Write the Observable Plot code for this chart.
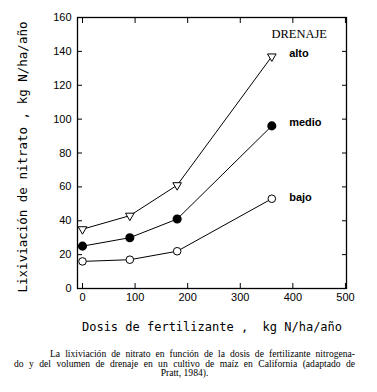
<!DOCTYPE html>
<html>
<head>
<meta charset="utf-8">
<script src="https://cdn.jsdelivr.net/npm/d3@7"></script>
<script src="https://cdn.jsdelivr.net/npm/@observablehq/plot@0.6"></script>
<style>
  body { margin: 0; background: white; }
  #chart svg { display: block; }
  .cap { margin-left: 14px; width: 341px; font-family: "Liberation Serif", "Times New Roman", serif; font-size: 9.6px; line-height: 9.6px; color: #000; margin-top: 9px; }
  .cap div { text-align: justify; text-align-last: justify; white-space: nowrap; }
  .cap .l1 { padding-left: 36px; }
  .cap .l3 { text-align-last: center; text-align: center; }
</style>
</head>
<body>
<div id="chart"></div>
<script>
const dosis = [0, 90, 180, 360];
const alto = [35, 43, 61, 137];
const medio = [25, 30, 41, 96];
const bajo = [16, 17, 22, 53];
const seriesNames = ["alto", "medio", "bajo"];
const labelDosis = [393, 393, 393];
const labelValue = [139, 98, 54];
const xTicks = [0, 100, 200, 300, 400, 500];
const yTicks = [0, 20, 40, 60, 80, 100, 120, 140, 160];
const legendTitle = "DRENAJE";
const legendPos = [412, 150];
const xTitle = "Dosis de fertilizante ,  kg N/ha/año";
const yTitle = "Lixiviación de nitrato , kg N/ha/año";
const captionLines = [
  "La lixiviación de nitrato en función de la dosis de fertilizante nitrogena-",
  "do y del volumen de drenaje en un cultivo de maíz en California (adaptado de",
  "Pratt, 1984)."
];

const seriesValues = {alto, medio, bajo};
const rows = seriesNames.flatMap(s => dosis.map((d, i) => ({serie: s, dosis: d, value: seriesValues[s][i]})));
const labels = seriesNames.map((s, i) => ({serie: s, dosis: labelDosis[i], value: labelValue[i]}));

const noText = () => "";
const chart = Plot.plot({
  width: 377,
  height: 340,
  marginTop: 17,
  marginBottom: 52,
  marginLeft: 77,
  marginRight: 31,
  x: {domain: [-9.5, 502]},
  y: {domain: [0, 160]},
  style: {fontFamily: "'Liberation Sans', Arial, sans-serif", fontSize: "11px", color: "black", background: "white"},
  marks: [
    Plot.axisX(xTicks, {anchor: "bottom", tickSize: 0, tickPadding: 5, label: null, fontSize: 11}),
    Plot.axisY(yTicks, {anchor: "left", tickSize: 0, tickPadding: 6, label: null, fontSize: 11}),
    Plot.axisX(xTicks, {anchor: "bottom", tickSize: 5, dy: -5, tickFormat: noText, label: null}),
    Plot.axisX(xTicks, {anchor: "top", tickSize: 5, dy: 5, tickFormat: noText, label: null}),
    Plot.axisY(yTicks, {anchor: "left", tickSize: 5, dx: 5, tickFormat: noText, label: null}),
    Plot.axisY(yTicks, {anchor: "right", tickSize: 5, dx: -5, tickFormat: noText, label: null}),
    Plot.frame({stroke: "black", strokeWidth: 1.3}),
    Plot.line(rows, {x: "dosis", y: "value", z: "serie", stroke: "black", strokeWidth: 1}),
    Plot.dot(rows.filter(d => d.serie === "alto"), {x: "dosis", y: "value", symbol: "triangle", rotate: 180, r: 3.2, fill: "white", stroke: "black", strokeWidth: 1}),
    Plot.dot(rows.filter(d => d.serie === "medio"), {x: "dosis", y: "value", symbol: "circle", r: 3.8, fill: "black", stroke: "black"}),
    Plot.dot(rows.filter(d => d.serie === "bajo"), {x: "dosis", y: "value", symbol: "circle", r: 3.8, fill: "white", stroke: "black", strokeWidth: 1}),
    Plot.text(labels, {x: "dosis", y: "value", text: "serie", textAnchor: "start", fontWeight: "bold", fontSize: 11}),
    Plot.text([legendTitle], {x: () => legendPos[0], y: () => legendPos[1], text: d => d, fontFamily: "'Liberation Serif', 'Times New Roman', serif", fontSize: 12.5}),
    Plot.text([xTitle], {frameAnchor: "bottom", dy: 39, text: d => d, textAnchor: "middle", fontFamily: "'DejaVu Sans Mono', monospace", fontSize: 12, lineAnchor: "middle"}),
    Plot.text([yTitle], {frameAnchor: "left", dx: -55, dy: 4, rotate: -90, text: d => d, textAnchor: "middle", fontFamily: "'DejaVu Sans Mono', monospace", fontSize: 12.5, lineAnchor: "middle"})
  ]
});
document.getElementById("chart").append(chart);

const cap = document.createElement("div");
cap.className = "cap";
captionLines.forEach((t, i) => {
  const d = document.createElement("div");
  d.className = "l" + (i + 1);
  d.textContent = t;
  cap.append(d);
});
document.body.append(cap);
</script>
</body>
</html>
